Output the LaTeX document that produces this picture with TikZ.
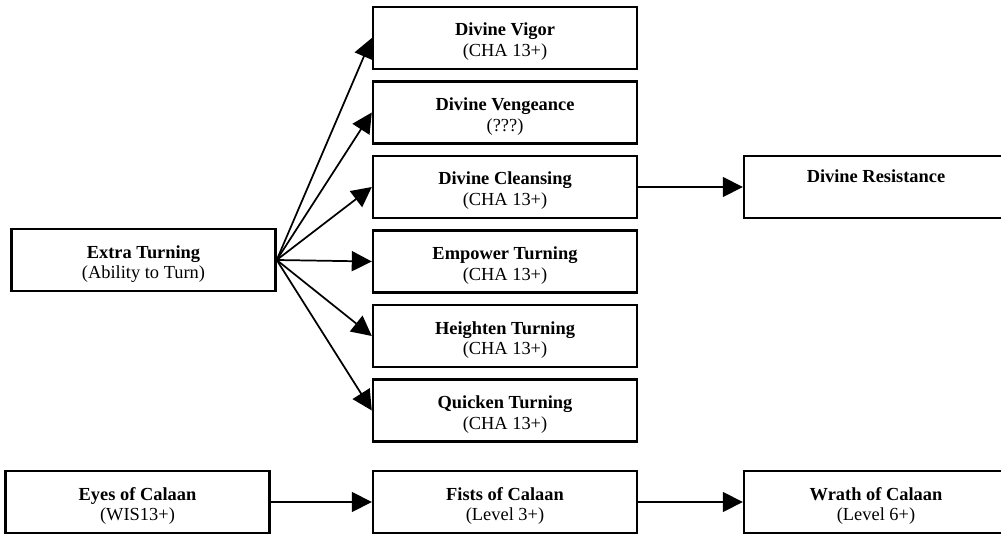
\documentclass[tikz,border=0pt]{standalone}
\usepackage{fontspec}
\setmainfont{Liberation Serif}
\usetikzlibrary{arrows.meta}
\tikzset{
  card/.style={draw, line width=1.8pt, minimum width=198pt, minimum height=46.5pt, inner sep=0pt},
  ttl/.style={font=\fontsize{13.8}{15}\selectfont\bfseries, inner sep=0pt, anchor=base},
  sub/.style={font=\fontsize{13.8}{15}\selectfont, inner sep=0pt, anchor=base},
  link/.style={line width=1.3pt, -{Triangle[length=15pt,width=15pt]}},
}
% a feat box: name, centre, title, prerequisite
\newcommand\card[4]{%
  \node[card] (#1) at (#2) {};
  \node[ttl] (#1-t) at ([yshift=1.5pt]#1.center) {#3};
  \node[sub] (#1-s) at ([yshift=-13.9pt]#1.center) {#4};
}
\begin{document}
\begin{tikzpicture}[x=0.75pt, y=-0.75pt]
  \useasboundingbox (0,0) rectangle (1001,535);
  \clip (0,0) rectangle (1001,535);

  % turning feats
  \card{ext}{143.5,260}{Extra Turning}{(Ability to Turn)}
  \card{vig}{505,38}{Divine Vigor}{(CHA 13+)}
  \card{ven}{505,112.5}{Divine Vengeance}{(???)}
  \card{cle}{505,187}{Divine Cleansing}{(CHA 13+)}
  \card{emp}{505,261.5}{Empower Turning}{(CHA 13+)}
  \card{hei}{505,336}{Heighten Turning}{(CHA 13+)}
  \card{qui}{505,410.5}{Quicken Turning}{(CHA 13+)}
  \node[card] (res) at (876,187) {};
  \node[ttl] (res-t) at ([yshift=3pt]res.center) {Divine Resistance};

  % Calaan chain
  \card{eye}{137.5,502}{Eyes of Calaan}{(WIS13+)}
  \card{fis}{505,502}{Fists of Calaan}{(Level 3+)}
  \card{wra}{876,502}{Wrath of Calaan}{(Level 6+)}

  % connectors
  \foreach \t in {vig,ven,cle,emp,hei,qui}
    \draw[link] (ext.east) -- (\t.west);
  \draw[link] (cle.east) -- (res.west);
  \draw[link] (eye.east) -- (fis.west);
  \draw[link] (fis.east) -- (wra.west);
\end{tikzpicture}
\end{document}
